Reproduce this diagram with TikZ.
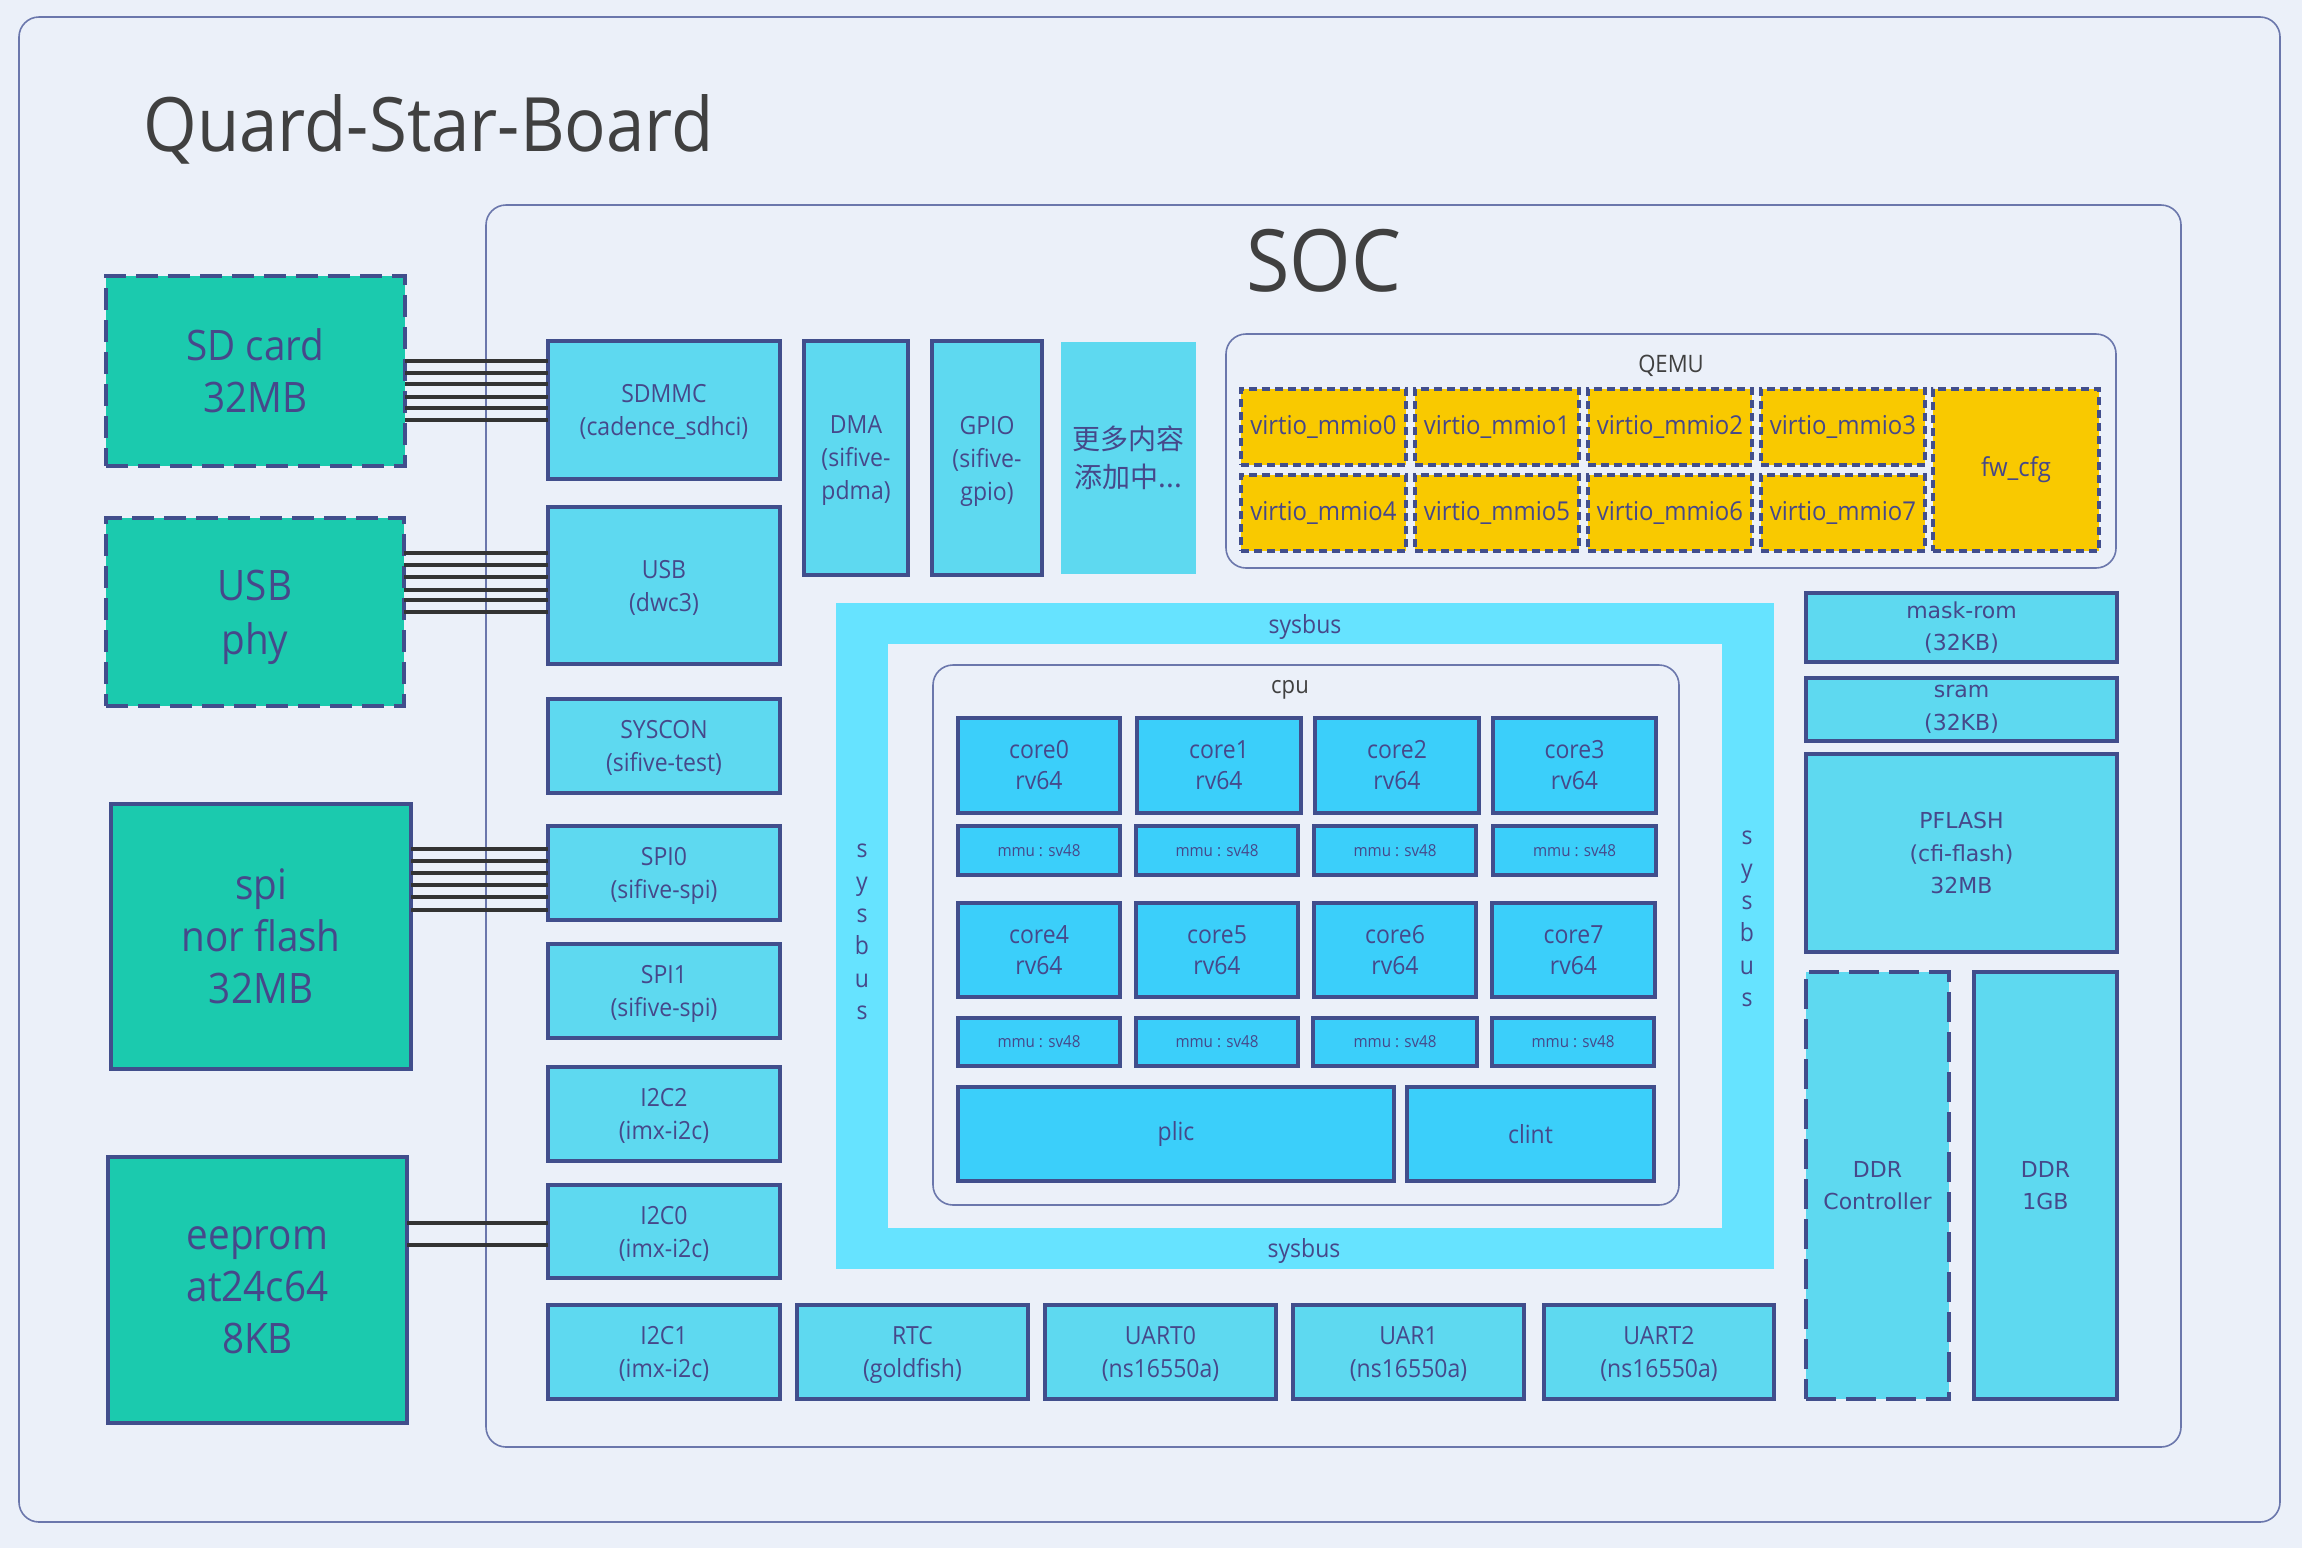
\documentclass[tikz,border=0pt]{standalone}
\usepackage{fontspec}
\setmainfont{Open Sans}[FakeStretch=0.92]
\newfontfamily\dvfont{DejaVu Sans}
\newfontfamily\cjkfont{Noto Sans CJK SC}
\definecolor{bgc}{HTML}{EBF0F9}
\definecolor{greenc}{HTML}{1BCAAE}
\definecolor{perc}{HTML}{5ED9F0}
\definecolor{corec}{HTML}{3BCFFA}
\definecolor{busc}{HTML}{66E3FF}
\definecolor{yelc}{HTML}{F9C900}
\definecolor{navyc}{HTML}{414E8C}
\definecolor{txtc}{HTML}{46488A}
\definecolor{wirec}{HTML}{333333}
\definecolor{grayc}{HTML}{404040}
\definecolor{contc}{HTML}{6B77AC}
\newcommand\bx[7]{\node[#6,minimum width={((#4)-(#2))*0.5pt},minimum height={((#5)-(#3))*0.5pt}] (#1) at ({((#2)+(#4))/2},{((#3)+(#5))/2}) {#7};}
\tikzset{
  base/.style={inner sep=0pt,outer sep=0pt,align=center,text=txtc},
  cont/.style={base,draw=contc,line width=0.8pt,rounded corners=10pt},
  greenbox/.style={base,fill=greenc,draw=navyc,line width=1.8pt,font=\fontsize{21}{26}\selectfont},
  greendash/.style={greenbox,dash pattern=on 11pt off 5pt},
  per/.style={base,fill=perc,draw=navyc,line width=1.8pt,font=\fontsize{12.5}{16.5}\selectfont,text depth=0pt},
  perdv/.style={base,fill=perc,draw=navyc,line width=1.8pt,font=\dvfont\fontsize{11}{16.25}\selectfont},
  perdvdash/.style={perdv,dash pattern=on 15pt off 5pt},
  corebox/.style={base,fill=corec,draw=navyc,line width=1.8pt,font=\fontsize{12.5}{15.5}\selectfont},
  mmubox/.style={corebox,font=\fontsize{8.25}{10}\selectfont},
  virtio/.style={base,fill=yelc,draw=navyc,line width=1.8pt,dash pattern=on 4pt off 2.5pt,font=\fontsize{13}{16}\selectfont},
  wire/.style={draw=wirec,line width=2.3pt},
  lbl/.style={inner sep=0pt,outer sep=0pt,text=txtc,font=\fontsize{12.5}{16.2}\selectfont,align=center},
  glbl/.style={inner sep=0pt,outer sep=0pt,text=grayc,font=\fontsize{12}{15}\selectfont},
}
\begin{document}
\begin{tikzpicture}[x=0.5pt,y=-0.5pt]
\useasboundingbox (0,0) rectangle (2302,1548);
\fill[bgc] (0,0) rectangle (2302,1548);
% containers
\bx{board}{19}{17}{2280}{1522}{cont}{}
\node[anchor=base west,inner sep=0pt,text=grayc,font=\fontsize{37.5}{40}\selectfont] (title) at (143,151) {Quard-Star-Board};
\bx{soc}{486}{205}{2181}{1447}{cont}{}
\node[anchor=base,inner sep=0pt,text=grayc,font=\fontsize{43}{45}\selectfont] (soclbl) at (1324,291) {SOC};
% sysbus frame
\bx{sysbus}{836}{603}{1774}{1269}{base,fill=busc}{}
\bx{sysin}{888}{644}{1722}{1228}{base,fill=bgc}{}
\node[lbl,anchor=base] (sbtop) at (1305,633) {sysbus};
\node[lbl,anchor=base] (sbbot) at (1304,1257) {sysbus};
\node[lbl,font=\fontsize{12.5}{16.15}\selectfont] (sbleft) at (862,932) {s\\y\\s\\b\\u\\s};
\node[lbl,font=\fontsize{12.5}{16.15}\selectfont] (sbright) at (1747,919) {s\\y\\s\\b\\u\\s};
% cpu
\bx{cpu}{933}{665}{1679}{1205}{cont}{}
\node[glbl,anchor=base] (cpulbl) at (1290,693) {cpu};
\bx{c0}{958}{718}{1120}{813}{corebox}{core0\\rv64}
\bx{c1}{1137}{718}{1301}{813}{corebox}{core1\\rv64}
\bx{c2}{1315}{718}{1479}{813}{corebox}{core2\\rv64}
\bx{c3}{1493}{718}{1656}{813}{corebox}{core3\\rv64}
\bx{m0}{958}{826}{1120}{875}{mmubox}{mmu : sv48}
\bx{m1}{1136}{826}{1298}{875}{mmubox}{mmu : sv48}
\bx{m2}{1314}{826}{1476}{875}{mmubox}{mmu : sv48}
\bx{m3}{1493}{826}{1656}{875}{mmubox}{mmu : sv48}
\bx{c4}{958}{903}{1120}{997}{corebox}{core4\\rv64}
\bx{c5}{1136}{903}{1298}{997}{corebox}{core5\\rv64}
\bx{c6}{1314}{903}{1476}{997}{corebox}{core6\\rv64}
\bx{c7}{1492}{903}{1655}{997}{corebox}{core7\\rv64}
\bx{m4}{958}{1018}{1120}{1066}{mmubox}{mmu : sv48}
\bx{m5}{1136}{1018}{1298}{1066}{mmubox}{mmu : sv48}
\bx{m6}{1313}{1018}{1477}{1066}{mmubox}{mmu : sv48}
\bx{m7}{1492}{1018}{1654}{1066}{mmubox}{mmu : sv48}
\bx{plic}{958}{1087}{1394}{1181}{corebox}{plic}
\bx{clint}{1407}{1087}{1654}{1181}{corebox}{clint}
% QEMU
\bx{qemu}{1226}{334}{2116}{568}{cont}{}
\node[glbl,anchor=base] (qemulbl) at (1671,372) {QEMU};
\bx{v0}{1241}{389}{1406}{465}{virtio}{virtio\_mmio0}
\bx{v1}{1415}{389}{1579}{465}{virtio}{virtio\_mmio1}
\bx{v2}{1588}{389}{1752}{465}{virtio}{virtio\_mmio2}
\bx{v3}{1761}{389}{1925}{465}{virtio}{virtio\_mmio3}
\bx{v4}{1241}{475}{1406}{551}{virtio}{virtio\_mmio4}
\bx{v5}{1415}{475}{1579}{551}{virtio}{virtio\_mmio5}
\bx{v6}{1588}{475}{1752}{551}{virtio}{virtio\_mmio6}
\bx{v7}{1761}{475}{1925}{551}{virtio}{virtio\_mmio7}
\bx{fwcfg}{1933}{389}{2099}{551}{virtio}{fw\_cfg}
% left peripherals
\bx{sdmmc}{548}{341}{780}{479}{per}{SDMMC\\(cadence\_sdhci)}
\bx{usb}{548}{507}{780}{664}{per}{USB\\(dwc3)}
\bx{syscon}{548}{699}{780}{793}{per}{SYSCON\\(sifive-test)}
\bx{spi0}{548}{826}{780}{920}{per}{SPI0\\(sifive-spi)}
\bx{spi1}{548}{944}{780}{1038}{per}{SPI1\\(sifive-spi)}
\bx{i2c2}{548}{1067}{780}{1161}{per}{I2C2\\(imx-i2c)}
\bx{i2c0}{548}{1185}{780}{1278}{per}{I2C0\\(imx-i2c)}
\bx{dma}{804}{341}{908}{575}{per}{DMA\\(sifive-\\pdma)}
\bx{gpio}{932}{341}{1042}{575}{per}{GPIO\\(sifive-\\gpio)}
\bx{more}{1061}{342}{1196}{574}{base,fill=perc,font=\cjkfont\fontsize{14}{19}\selectfont}{更多内容\\添加中...}
% bottom row
\bx{i2c1}{548}{1305}{780}{1399}{per}{I2C1\\(imx-i2c)}
\bx{rtc}{797}{1305}{1028}{1399}{per}{RTC\\(goldfish)}
\bx{uart0}{1045}{1305}{1276}{1399}{per}{UART0\\(ns16550a)}
\bx{uart1}{1293}{1305}{1524}{1399}{per}{UAR1\\(ns16550a)}
\bx{uart2}{1544}{1305}{1774}{1399}{per}{UART2\\(ns16550a)}
% right column
\bx{maskrom}{1806}{593}{2117}{662}{perdv}{mask-rom\\(32KB)}
\bx{sram}{1806}{678}{2117}{741}{perdv}{sram\\(32KB)}
\bx{pflash}{1806}{754}{2117}{952}{perdv}{PFLASH\\(cfi-flash)\\32MB}
\bx{ddrc}{1806}{972}{1949}{1399}{perdvdash}{DDR\\Controller}
\bx{ddr}{1974}{972}{2117}{1399}{perdv}{DDR\\1GB}
% external devices
\bx{sd}{106}{276}{405}{466}{greendash}{SD card\\32MB}
\bx{usbphy}{106}{518}{404}{706}{greendash,font=\fontsize{21}{27}\selectfont,text depth=-2.5pt}{USB\\phy}
\bx{norflash}{111}{804}{411}{1069}{greenbox}{spi\\nor flash\\32MB}
\bx{eeprom}{108}{1157}{407}{1423}{greenbox,text depth=-5pt}{eeprom\\at24c64\\8KB}
% wires
\foreach \yy in {361,373,384,397,408,420}{\draw[wire] (sd.east |- 0,\yy) -- (sdmmc.west |- 0,\yy);}
\foreach \yy in {553,565,577,590,600,612}{\draw[wire] (usbphy.east |- 0,\yy) -- (usb.west |- 0,\yy);}
\foreach \yy in {849,861,873,885,897,910}{\draw[wire] (norflash.east |- 0,\yy) -- (spi0.west |- 0,\yy);}
\foreach \yy in {1223,1245}{\draw[wire] (eeprom.east |- 0,\yy) -- (i2c0.west |- 0,\yy);}
\end{tikzpicture}
\end{document}
